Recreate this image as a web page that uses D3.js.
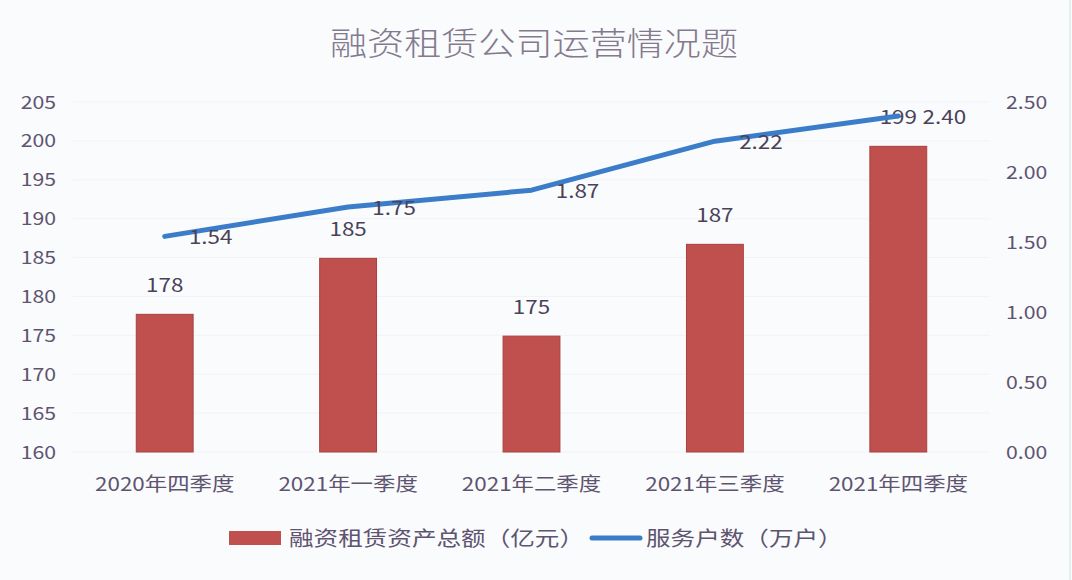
<!DOCTYPE html>
<html>
<head>
<meta charset="utf-8">
<script src="https://cdn.jsdelivr.net/npm/d3@7"></script>
<style>
  html, body { margin: 0; padding: 0; background: #fafbfd; }
  svg { display: block; }
  text { font-family: "Noto Sans CJK SC", "Noto Sans", sans-serif; }
</style>
</head>
<body>
<svg id="chart" width="1072" height="580"></svg>
<script>
const title = "融资租赁公司运营情况题";
const categories = ["2020年四季度", "2021年一季度", "2021年二季度", "2021年三季度", "2021年四季度"];
const assetValues = [177.7, 184.9, 174.9, 186.7, 199.3];
const assetLabels = ["178", "185", "175", "187", "199"];
const customerValues = [1.54, 1.75, 1.87, 2.22, 2.40];
const customerLabels = ["1.54", "1.75", "1.87", "2.22", "2.40"];
const leftTicks = [160, 165, 170, 175, 180, 185, 190, 195, 200, 205];
const rightTicks = [0, 0.5, 1.0, 1.5, 2.0, 2.5];
const seriesNames = ["融资租赁资产总额（亿元）", "服务户数（万户）"];

const W = 1072, H = 580;
const plot = { left: 73, right: 990, top: 102, bottom: 452 };
const textColor = "#5e5470";
const labelColor = "#4a4258";
const barColor = "#c0504d";
const lineColor = "#3b7dc9";
const sx = 1.18; // horizontal stretch of text in reference

const svg = d3.select("#chart");
svg.append("rect").attr("width", W).attr("height", H).attr("fill", "#fafbfd");
svg.append("line").attr("x1", W - 2).attr("x2", W - 2).attr("y1", 0).attr("y2", H)
  .attr("stroke", "#e3efe8").attr("stroke-width", 2);

function stretchedText(g, x, y, str, size, anchor, color, stretch) {
  return g.append("text")
    .attr("transform", `translate(${x},${y}) scale(${stretch || sx},1)`)
    .attr("text-anchor", anchor)
    .attr("font-size", size)
    .attr("fill", color)
    .text(str);
}

// Title
stretchedText(svg, 534, 55, title, 32, "middle", "#847a8e", 1.16).attr("font-weight", 300);

const x = d3.scaleBand().domain(categories).range([plot.left, plot.right]).padding(0);
const yL = d3.scaleLinear().domain([160, 205]).range([plot.bottom, plot.top]);
const yR = d3.scaleLinear().domain([0, 2.5]).range([plot.bottom, plot.top]);
const barW = x.bandwidth() * 0.31;
const cx = d => x(d) + x.bandwidth() / 2;

// gridlines
svg.append("g").selectAll("line").data(leftTicks).join("line")
  .attr("x1", plot.left).attr("x2", plot.right)
  .attr("y1", d => yL(d)).attr("y2", d => yL(d))
  .attr("stroke", "#f1f3f7").attr("stroke-width", 1);

// Left axis
const gL = svg.append("g").attr("transform", `translate(${56},0)`);
gL.call(d3.axisLeft(yL).tickValues(leftTicks).tickSize(0).tickPadding(0).tickFormat(d3.format("d")));
gL.select(".domain").remove();
gL.selectAll("text").each(function(d) {
  d3.select(this).attr("x", null).attr("dy", null).attr("font-size", 18).attr("font-family", null)
   .attr("fill", textColor).attr("text-anchor", "end")
   .attr("transform", `translate(0,6) scale(${sx},1)`);
});

// Right axis
const gR = svg.append("g").attr("transform", `translate(${1006},0)`);
gR.call(d3.axisRight(yR).tickValues(rightTicks).tickSize(0).tickPadding(0).tickFormat(d3.format(".2f")));
gR.select(".domain").remove();
gR.selectAll("text").each(function(d) {
  d3.select(this).attr("x", null).attr("dy", null).attr("font-size", 18).attr("font-family", null)
   .attr("fill", textColor).attr("text-anchor", "start")
   .attr("transform", `translate(0,6) scale(${sx},1)`);
});

// Category axis
const gX = svg.append("g").attr("transform", `translate(0,${plot.bottom})`);
gX.call(d3.axisBottom(x).tickSize(0).tickPadding(0));
gX.select(".domain").remove();
gX.selectAll("text").each(function(d) {
  d3.select(this).attr("y", null).attr("dy", null).attr("font-size", 19).attr("font-family", null)
   .attr("fill", textColor).attr("text-anchor", "middle")
   .attr("transform", `translate(0,39) scale(${sx},1)`);
});

// Bars
svg.append("g").selectAll("rect").data(categories).join("rect")
  .attr("x", d => cx(d) - barW / 2)
  .attr("width", barW)
  .attr("y", (d, i) => yL(assetValues[i]))
  .attr("height", (d, i) => yL(160) - yL(assetValues[i]))
  .attr("fill", barColor)
  .attr("stroke", "#a8413e").attr("stroke-width", 1);

// Bar labels
const gBL = svg.append("g");
categories.forEach((c, i) => {
  stretchedText(gBL, cx(c), yL(assetValues[i]) - 22, assetLabels[i], 19, "middle", labelColor);
});

// Line
const lineGen = d3.line()
  .x((d, i) => cx(categories[i]))
  .y(d => yR(d))
  .curve(d3.curveLinear);
svg.append("path").datum(customerValues)
  .attr("d", lineGen)
  .attr("fill", "none")
  .attr("stroke", lineColor)
  .attr("stroke-width", 5)
  .attr("stroke-linecap", "round")
  .attr("stroke-linejoin", "round");

// Line labels
const gLL = svg.append("g");
categories.forEach((c, i) => {
  stretchedText(gLL, cx(c) + 46, yR(customerValues[i]) + 8, customerLabels[i], 19, "middle", labelColor);
});

// Legend
const lg = svg.append("g");
lg.append("rect").attr("x", 229).attr("y", 531).attr("width", 52).attr("height", 14).attr("fill", barColor);
stretchedText(lg, 289, 546, seriesNames[0], 20.5, "start", textColor, 1.2);
lg.append("line").attr("x1", 592).attr("x2", 640).attr("y1", 538).attr("y2", 538)
  .attr("stroke", lineColor).attr("stroke-width", 5).attr("stroke-linecap", "round");
stretchedText(lg, 646, 546, seriesNames[1], 20.5, "start", textColor, 1.2);
</script>
</body>
</html>
